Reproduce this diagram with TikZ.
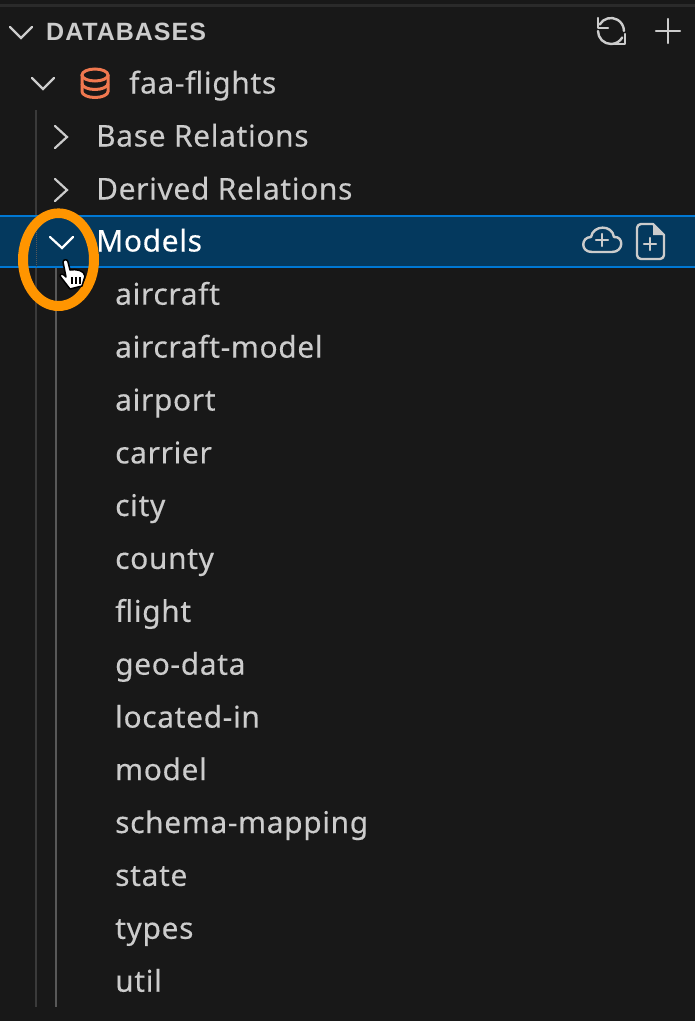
\documentclass[tikz,border=0pt]{standalone}
\usepackage{fontspec}
\setmainfont[LetterSpace=2.2,FakeBold=0.25]{Noto Sans}
\newfontfamily\hdrfont[LetterSpace=4]{Liberation Sans}
\definecolor{bgc}{HTML}{181818}
\definecolor{topc}{HTML}{2A2A2A}
\definecolor{txt}{HTML}{CCCCCC}
\definecolor{sel}{HTML}{04395E}
\definecolor{selb}{HTML}{0078D4}
\definecolor{org}{HTML}{FF9500}
\definecolor{dbc}{HTML}{F0784F}
\definecolor{guide}{HTML}{3A3A3A}
\definecolor{guideb}{HTML}{585858}
\tikzset{
  x=1pt,y=-1pt,
  rowtext/.style={anchor=base west,inner sep=0pt,text=txt,font=\fontsize{29.9}{34}\selectfont},
  chev/.style={draw=txt,line width=2.2pt,line cap=round,line join=miter},
  iconline/.style={draw=txt,line width=2.4pt,line cap=round,line join=round},
}
\begin{document}
\begin{tikzpicture}
\useasboundingbox (0,0) rectangle (695,1021);
\fill[bgc] (0,0) rectangle (695,1021);
\fill[topc] (0,4) rectangle (695,6.5);
% guides
\draw[guide,line width=2pt] (36,110) -- (36,1007);
\draw[guideb,line width=2pt] (56,268) -- (56,1007);
% selected row
\fill[sel] (0,215) rectangle (695,268);
\fill[selb] (0,215) rectangle (695,216.8);
\fill[selb] (0,266.2) rectangle (695,268);
\draw[guideb,line width=1pt,densely dotted] (36,216) -- (36,267);
% header
\draw[chev] (10,27) -- (21,38) -- (32,27);
\node[rowtext,font=\hdrfont\fontsize{25}{30}\selectfont\bfseries] (hdr) at (46,40.5) {DATABASES};
% refresh icon
\draw[iconline] (599.7,24.5) arc[start angle=210,end angle=360,radius=13];
\draw[iconline] (598,31) arc[start angle=180,end angle=30,radius=13];
\draw[iconline] (598,18) -- (598,28) -- (608,28);
\draw[iconline] (625,34) -- (625,44) -- (615,44);
% plus
\draw[iconline] (656,31) -- (680,31);
\draw[iconline] (668,19) -- (668,43);
% faa-flights row
\draw[chev] (32,78) -- (43,89) -- (54,78);
\draw[dbc,line width=3pt] (95,75) ellipse[x radius=13,y radius=6];
\draw[dbc,line width=3pt] (82,75) -- (82,91.5) arc[start angle=180,end angle=0,x radius=13,y radius=6] -- (108,75);
\draw[dbc,line width=3pt] (82,83.5) arc[start angle=180,end angle=0,x radius=13,y radius=6];
\node[rowtext] (db) at (129,93.5) {faa-flights};
% tree rows
\draw[chev] (55,126) -- (67,137) -- (55,148);
\node[rowtext] (base) at (96,146.5) {Base Relations};
\draw[chev] (55,179) -- (67,190) -- (55,201);
\node[rowtext] (derived) at (96,199.5) {Derived Relations};
\draw[draw=white,line width=2.2pt,line cap=round] (50,237) -- (62,248) -- (73,237);
\node[rowtext,text=white] (models) at (96,251.5) {Models};
% cloud icon
\draw[iconline] (592,252) .. controls (580,252) and (581,237) .. (591,237)
  .. controls (593,225) and (612,224) .. (614,237)
  .. controls (624,236) and (624,252) .. (612,252) -- cycle;
\draw[iconline] (602,234) -- (602,246);
\draw[iconline] (596,240) -- (608,240);
% new-file icon
\fill[txt] (653,224) -- (664,235) -- (653,235) -- cycle;
\draw[iconline] (642,224) -- (653,224) -- (664,235) -- (664,255) arc[start angle=0,end angle=90,radius=4] -- (641,259) arc[start angle=90,end angle=180,radius=4] -- (637,228) arc[start angle=180,end angle=270,radius=4] -- cycle;
\draw[iconline] (650,238) -- (650,250);
\draw[iconline] (644,244) -- (656,244);
% children
\node[rowtext] (m1) at (115,304.7) {aircraft};
\node[rowtext] (m2) at (115,357.6) {aircraft-model};
\node[rowtext] (m3) at (115,410.5) {airport};
\node[rowtext] (m4) at (115,463.4) {carrier};
\node[rowtext] (m5) at (115,516) {city};
\node[rowtext] (m6) at (115,568.9) {county};
\node[rowtext] (m7) at (115,621.8) {flight};
\node[rowtext] (m8) at (115,674.7) {geo-data};
\node[rowtext] (m9) at (115,727.6) {located-in};
\node[rowtext] (m10) at (115,780.2) {model};
\node[rowtext] (m11) at (115,833) {schema-mapping};
\node[rowtext] (m12) at (115,885.9) {state};
\node[rowtext] (m13) at (115,938.8) {types};
\node[rowtext] (m14) at (115,991.7) {util};
% orange ring
\fill[org,even odd rule] (58.5,259.7) ellipse[x radius=40.5,y radius=51.3] (58.5,259.5) ellipse[x radius=30.5,y radius=41.5];
% hand cursor
\draw[black,line width=1.5pt,fill=white,line join=round]
  (63,262) .. controls (63,259) and (68,259) .. (68,262) -- (70,270)
  .. controls (76,269) and (84,270) .. (85,276) -- (82,286) -- (70,289)
  -- (60,276) .. controls (60,273) and (64,274) .. (66,277) -- cycle;
\draw[black,line width=1.2pt] (72,277) -- (72,284) (76,277) -- (76,284) (80,277) -- (80,284);
\end{tikzpicture}
\end{document}
